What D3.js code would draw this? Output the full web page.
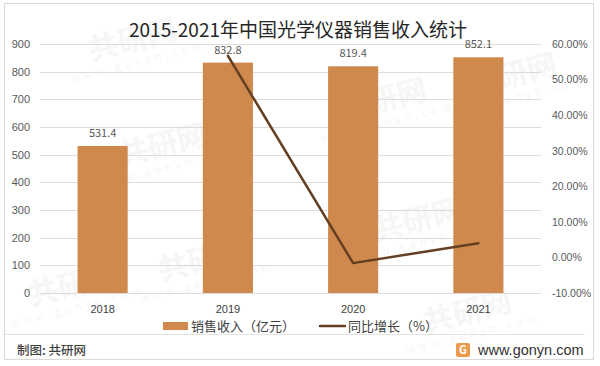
<!DOCTYPE html>
<html>
<head>
<meta charset="utf-8">
<script src="https://cdn.jsdelivr.net/npm/d3@7"></script>
<style>
  body { margin: 0; background: #fff; }
  text { font-family: "Noto Sans CJK SC", "Noto Sans", sans-serif; }
</style>
</head>
<body>
<div id="container"></div>
<script>
let w = 600;
let h = 366;

let years = ["2018", "2019", "2020", "2021"];
let revenue = [531.4, 832.8, 819.4, 852.1];
let growth = [null, 56.7, -1.6, 4.0];
let leftTicks = [0, 100, 200, 300, 400, 500, 600, 700, 800, 900];
let rightTicks = [-10, 0, 10, 20, 30, 40, 50, 60];

// faint watermark stamps behind the chart
let stampX = [135, 165, 385, 515, 75, 205, 420, 470];
let stampY = [50, 155, 110, 85, 295, 270, 230, 322];

let viz = d3.select("#container")
  .append("svg")
    .attr("width", w)
    .attr("height", h)
    .style("display", "block")
;

let plotTop = 44, plotBottom = 293, plotLeft = 40, plotRight = 541;

// outer frame
viz.append("rect")
    .attr("x", 4.5).attr("y", 3.5)
    .attr("width", 589).attr("height", 356)
    .attr("fill", "white")
    .attr("stroke", "#d9d9d9")
;

// watermark
let stamps = viz.selectAll(".stamp").data(stampX).enter()
  .append("g")
    .attr("class", "stamp")
    .attr("transform", function(d, i){ return "translate(" + d + "," + stampY[i] + ") rotate(-14)" })
;
stamps.append("text")
    .attr("text-anchor", "middle")
    .attr("font-size", 30)
    .attr("font-weight", 700)
    .attr("fill", "#f6f6f6")
    .text("共研网")
;
stamps.append("text")
    .attr("text-anchor", "middle")
    .attr("y", 16)
    .attr("font-size", 11)
    .attr("letter-spacing", 4)
    .attr("fill", "#f6f6f6")
    .text("www.gonyn.com")
;

let xScale = d3.scaleBand().domain(years).range([plotLeft, plotRight]).paddingInner(0.6).paddingOuter(0.3);
let yScale = d3.scaleLinear().domain([0, 900]).range([plotBottom, plotTop]);
let y2Scale = d3.scaleLinear().domain([-10, 60]).range([plotBottom, plotTop]);

// gridlines
viz.selectAll(".grid").data(leftTicks).enter()
  .append("line")
    .attr("class", "grid")
    .attr("x1", plotLeft)
    .attr("x2", plotRight)
    .attr("y1", function(d){ return Math.round(yScale(d)) + 0.5 })
    .attr("y2", function(d){ return Math.round(yScale(d)) + 0.5 })
    .attr("stroke", "#dcdcdc")
    .attr("stroke-width", 1)
;

// bars
viz.selectAll(".bar").data(revenue).enter()
  .append("rect")
    .attr("class", "bar")
    .attr("x", function(d, i){ return xScale(years[i]) })
    .attr("y", function(d){ return yScale(d) })
    .attr("width", xScale.bandwidth())
    .attr("height", function(d){ return plotBottom - yScale(d) })
    .attr("fill", "#d0894d")
;

// bar labels
viz.selectAll(".barLabel").data(revenue).enter()
  .append("text")
    .attr("class", "barLabel")
    .attr("x", function(d, i){ return xScale(years[i]) + xScale.bandwidth() / 2 })
    .attr("y", function(d){ return yScale(d) - 9 })
    .attr("text-anchor", "middle")
    .attr("font-size", 11)
    .attr("fill", "#595959")
    .text(function(d){ return d.toFixed(1) })
;

// growth line
let line = d3.line()
    .defined(function(d){ return d != null })
    .x(function(d, i){ return xScale(years[i]) + xScale.bandwidth() / 2 })
    .y(function(d){ return y2Scale(d) })
;
viz.append("path")
    .attr("d", line(growth))
    .attr("fill", "none")
    .attr("stroke", "#643f22")
    .attr("stroke-width", 2.5)
    .attr("stroke-linecap", "round")
    .attr("stroke-linejoin", "round")
;

// axes
let yAxis = d3.axisLeft(yScale).tickValues(leftTicks).tickSize(0).tickPadding(10);
let yAxisGroup = viz.append("g")
    .attr("transform", "translate(" + plotLeft + ",0)")
    .call(yAxis)
;
let y2Axis = d3.axisRight(y2Scale).tickValues(rightTicks).tickSize(0).tickPadding(11)
    .tickFormat(function(d){ return d.toFixed(2) + "%" });
let y2AxisGroup = viz.append("g")
    .attr("transform", "translate(" + plotRight + ",0)")
    .call(y2Axis)
;
let xAxis = d3.axisBottom(xScale).tickSize(0).tickPadding(12);
let xAxisGroup = viz.append("g")
    .attr("transform", "translate(0," + plotBottom + ")")
    .call(xAxis)
;
yAxisGroup.select(".domain").remove();
y2AxisGroup.select(".domain").remove();
xAxisGroup.select(".domain").remove();
yAxisGroup.selectAll("text").attr("font-size", 11).attr("fill", "#595959").style("font-family", "inherit");
y2AxisGroup.selectAll("text").attr("font-size", 10.5).attr("fill", "#595959").style("font-family", "inherit");
xAxisGroup.selectAll("text").attr("font-size", 11).attr("fill", "#404040").style("font-family", "inherit");

// title
viz.append("text")
    .attr("x", 298)
    .attr("y", 37)
    .attr("text-anchor", "middle")
    .attr("font-size", 19)
    .attr("fill", "#262626")
    .text("2015-2021年中国光学仪器销售收入统计")
;

// legend
viz.append("rect")
    .attr("x", 163).attr("y", 322)
    .attr("width", 25).attr("height", 8)
    .attr("fill", "#d0894d")
;
viz.append("text")
    .attr("x", 191).attr("y", 331)
    .attr("font-size", 13)
    .attr("fill", "#404040")
    .text("销售收入（亿元）")
;
viz.append("line")
    .attr("x1", 320).attr("x2", 345)
    .attr("y1", 326).attr("y2", 326)
    .attr("stroke", "#643f22")
    .attr("stroke-width", 2.5)
    .attr("stroke-linecap", "round")
;
viz.append("text")
    .attr("x", 348).attr("y", 331)
    .attr("font-size", 13)
    .attr("fill", "#404040")
    .text("同比增长（%）")
;

// footer
viz.append("line")
    .attr("x1", 5).attr("x2", 585)
    .attr("y1", 334.5).attr("y2", 334.5)
    .attr("stroke", "#e3e3e3")
;
viz.append("text")
    .attr("x", 17).attr("y", 355)
    .attr("font-size", 12.5)
    .attr("font-weight", 500)
    .attr("fill", "#404040")
    .text("制图: 共研网")
;
viz.append("rect")
    .attr("x", 456).attr("y", 343)
    .attr("width", 14).attr("height", 14)
    .attr("rx", 2)
    .attr("fill", "#ee9a4d")
;
viz.append("text")
    .attr("x", 463).attr("y", 354)
    .attr("text-anchor", "middle")
    .attr("font-size", 11)
    .attr("font-weight", 700)
    .attr("fill", "white")
    .text("G")
;
viz.append("text")
    .attr("x", 478).attr("y", 355)
    .attr("font-size", 14.5)
    .attr("fill", "#333333")
    .style("font-family", "'Liberation Sans'")
    .text("www.gonyn.com")
;
</script>
</body>
</html>
